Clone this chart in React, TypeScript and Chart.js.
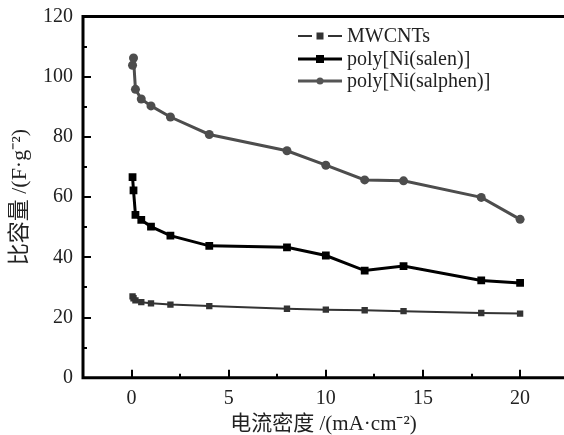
import React, { useEffect, useRef } from "react";
import { Chart, registerables } from "chart.js";

Chart.register(...registerables);

// Current density (mA·cm⁻²)
const currentDensity = [0.05, 0.1, 0.2, 0.5, 1, 2, 4, 8, 10, 12, 14, 18, 20];
// Specific capacitance (F·g⁻²)
const mwcnts = [27.0, 26.4, 25.7, 25.1, 24.7, 24.3, 23.8, 22.9, 22.6, 22.4, 22.1, 21.5, 21.3];
const salen = [66.6, 62.2, 54.1, 52.4, 50.2, 47.2, 43.8, 43.3, 40.6, 35.6, 37.1, 32.3, 31.5];
const salphen = [103.8, 106.2, 95.8, 92.6, 90.3, 86.6, 80.8, 75.4, 70.6, 65.7, 65.4, 59.9, 52.6];

const seriesNames = ["MWCNTs", "poly[Ni(salen)]", "poly[Ni(salphen)]"];
const xMajorTicks = [0, 5, 10, 15, 20];
const xMinorTicks = [2.5, 7.5, 12.5, 17.5];
const yMajorTicks = [0, 20, 40, 60, 80, 100, 120];
const yMinorTicks = [10, 30, 50, 70, 90, 110];

const SERIF = "'Liberation Serif', 'Times New Roman', 'Noto Sans CJK SC', serif";

const toPoints = (ys: number[]) => ys.map((y, i) => ({ x: currentDensity[i], y }));

const frame = {
  id: "frame",
  afterDraw(chart: any) {
    const { ctx, chartArea, scales } = chart;
    const xs = scales.x;
    const ys = scales.y;
    ctx.save();
    ctx.strokeStyle = "#000";
    ctx.lineCap = "butt";
    // axis lines and top border
    ctx.lineWidth = 3;
    ctx.beginPath();
    ctx.moveTo(chartArea.left, chartArea.top);
    ctx.lineTo(chartArea.right, chartArea.top);
    ctx.moveTo(chartArea.left, chartArea.top - 1.5);
    ctx.lineTo(chartArea.left, chartArea.bottom + 1.5);
    ctx.moveTo(chartArea.left - 1.5, chartArea.bottom);
    ctx.lineTo(chartArea.right, chartArea.bottom);
    ctx.stroke();
    // inward ticks
    ctx.lineWidth = 2;
    ctx.beginPath();
    for (const v of xMajorTicks) {
      const px = Math.round(xs.getPixelForValue(v));
      ctx.moveTo(px, chartArea.bottom);
      ctx.lineTo(px, chartArea.bottom - 8);
    }
    for (const v of xMinorTicks) {
      const px = Math.round(xs.getPixelForValue(v));
      ctx.moveTo(px, chartArea.bottom);
      ctx.lineTo(px, chartArea.bottom - 4);
    }
    for (const v of yMajorTicks) {
      const py = Math.round(ys.getPixelForValue(v));
      ctx.moveTo(chartArea.left, py);
      ctx.lineTo(chartArea.left + 8, py);
    }
    for (const v of yMinorTicks) {
      const py = Math.round(ys.getPixelForValue(v));
      ctx.moveTo(chartArea.left, py);
      ctx.lineTo(chartArea.left + 4, py);
    }
    ctx.stroke();

    // legend
    const lx0 = 298;
    const lx1 = 342;
    const rows = [36, 59, 81];
    const styles = [
      { color: "#333", width: 2, shape: "rect", size: 3.5, gap: true },
      { color: "#000", width: 3, shape: "rect", size: 4, gap: false },
      { color: "#555", width: 3, shape: "circle", size: 3.5, gap: false },
    ];
    ctx.font = `20px ${SERIF}`;
    ctx.textBaseline = "middle";
    ctx.textAlign = "left";
    rows.forEach((ry, i) => {
      const s = styles[i];
      const mx = (lx0 + lx1) / 2;
      ctx.strokeStyle = s.color;
      ctx.fillStyle = s.color;
      ctx.lineWidth = s.width;
      ctx.beginPath();
      if (s.gap) {
        ctx.moveTo(lx0, ry);
        ctx.lineTo(mx - 8, ry);
        ctx.moveTo(mx + 8, ry);
        ctx.lineTo(lx1, ry);
      } else {
        ctx.moveTo(lx0, ry);
        ctx.lineTo(lx1, ry);
      }
      ctx.stroke();
      if (s.shape === "rect") {
        ctx.fillRect(mx - s.size, ry - s.size, s.size * 2, s.size * 2);
      } else {
        ctx.beginPath();
        ctx.arc(mx, ry, s.size, 0, Math.PI * 2);
        ctx.fill();
      }
      ctx.fillStyle = "#222";
      ctx.fillText(seriesNames[i], lx1 + 5, ry + 1);
    });
    ctx.restore();
  },
};

export default function App() {
  const canvasRef = useRef<HTMLCanvasElement | null>(null);

  useEffect(() => {
    if (!canvasRef.current) return;
    const chart = new Chart(canvasRef.current, {
      type: "line",
      data: {
        datasets: [
          {
            label: seriesNames[0],
            data: toPoints(mwcnts),
            borderColor: "#333",
            backgroundColor: "#333",
            borderWidth: 2,
            pointStyle: "rect",
            pointRadius: 4.5,
            pointBorderWidth: 0,
          },
          {
            label: seriesNames[1],
            data: toPoints(salen),
            borderColor: "#000",
            backgroundColor: "#000",
            borderWidth: 3,
            pointStyle: "rect",
            pointRadius: 5.5,
            pointBorderWidth: 0,
          },
          {
            label: seriesNames[2],
            data: toPoints(salphen),
            borderColor: "#4d4d4d",
            backgroundColor: "#4d4d4d",
            borderWidth: 3,
            pointStyle: "circle",
            pointRadius: 4.5,
            pointBorderWidth: 0,
          },
        ],
      },
      options: {
        animation: false,
        responsive: false,
        maintainAspectRatio: false,
        layout: { autoPadding: false, padding: { top: 16.5, right: 0, left: 0, bottom: 0 } },
        plugins: { legend: { display: false }, tooltip: { enabled: false } },
        elements: { line: { tension: 0 } },
        scales: {
          x: {
            type: "linear",
            min: -2.5,
            max: 22.26,
            grid: { display: false, drawTicks: false },
            border: { display: false },
            afterBuildTicks: (scale: any) => {
              scale.ticks = xMajorTicks.map((v) => ({ value: v }));
            },
            afterFit: (scale: any) => {
              scale.height = 57.3;
              scale.paddingLeft = 0;
              scale.paddingRight = 0;
            },
            ticks: {
              autoSkip: false,
              maxRotation: 0,
              padding: 9,
              color: "#222",
              font: { family: SERIF, size: 20 },
            },
            title: {
              display: true,
              text: "电流密度 /(mA·cm⁻²)",
              color: "#222",
              font: { family: SERIF, size: 21, lineHeight: 1 },
              padding: { top: 0, bottom: 0 },
            },
          },
          y: {
            type: "linear",
            min: 0,
            max: 120,
            grid: { display: false, drawTicks: false },
            border: { display: false },
            afterBuildTicks: (scale: any) => {
              scale.ticks = yMajorTicks.map((v) => ({ value: v }));
            },
            afterFit: (scale: any) => {
              scale.width = 83;
              scale.paddingTop = 0;
              scale.paddingBottom = 0;
            },
            ticks: {
              padding: 10,
              color: "#222",
              font: { family: SERIF, size: 20 },
            },
            title: {
              display: true,
              text: "比容量 /(F·g⁻²)",
              color: "#222",
              font: { family: SERIF, size: 22, lineHeight: 1 },
              padding: { top: 9, bottom: 0 },
            },
          },
        },
      },
      plugins: [frame],
    });
    return () => chart.destroy();
  }, []);

  return (
    <div style={{ position: "absolute", left: 0, top: 0, width: 564, height: 435, background: "#fff" }}>
      <canvas ref={canvasRef} width={564} height={435} style={{ width: 564, height: 435 }} />
    </div>
  );
}
